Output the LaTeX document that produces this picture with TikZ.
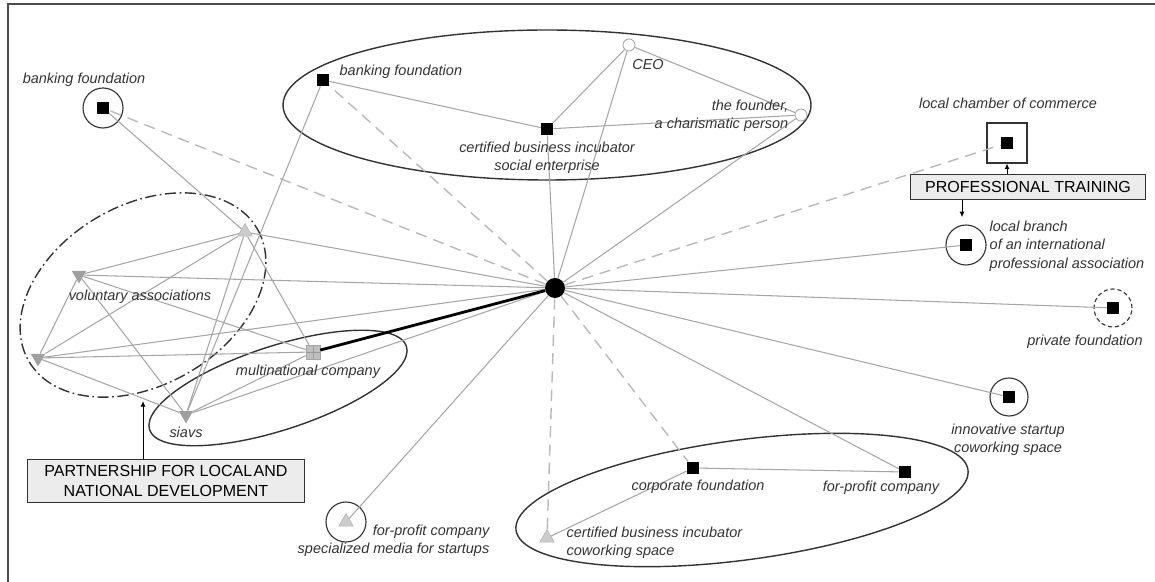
\documentclass[tikz,border=0pt]{standalone}
\usepackage{fontspec}
\setmainfont{Liberation Sans}
\usetikzlibrary{shapes.geometric,arrows.meta}

\tikzset{
    actor/.style={rectangle,fill=black,inner sep=0pt,minimum size=0.3cm},
    hubnode/.style={circle,fill=black,inner sep=0pt,minimum size=0.5cm},
    ring/.style={circle,draw=black!80,line width=0.8pt,inner sep=0pt,minimum size=1cm},
    person/.style={circle,draw=gray!70,fill=white,line width=0.6pt,inner sep=0pt,minimum size=0.3cm},
    uptri/.style={regular polygon,regular polygon sides=3,fill=gray!40,draw=gray!60,inner sep=0pt,minimum size=0.42cm},
    downtri/.style={regular polygon,regular polygon sides=3,shape border rotate=180,fill=gray!75,inner sep=0pt,minimum size=0.42cm},
    lbl/.style={font=\fontsize{10.3}{13}\selectfont\itshape,text=black!80,inner sep=1pt},
    tie/.style={draw=gray!70,line width=0.75pt},
    weak/.style={draw=gray!55,line width=1pt,dash pattern=on 8pt off 5pt},
    strong/.style={draw=black,line width=2pt},
    group/.style={draw=black!80,line width=1pt},
    theme/.style={draw=black!80,fill=gray!15,line width=0.8pt,font=\fontsize{11.4}{14}\selectfont,align=center,inner sep=0pt},
    pointer/.style={draw=black,line width=0.6pt,-{Latex[length=4pt,width=3.5pt]}}
}

\begin{document}
\begin{tikzpicture}[x=0.025cm,y=-0.025cm]
        \useasboundingbox (0,0) rectangle (1155,582);
        \draw[black!70,line width=1pt] (8,582) -- (8,4) -- (1155,4);

        \draw[group] (547,105) ellipse [x radius=264, y radius=75];
        \draw[group,rotate around={7.6:(742,500)}] (742,500) ellipse [x radius=228, y radius=60];
        \draw[group,rotate around={18:(278,388)}] (278,388) ellipse [x radius=135, y radius=42];
        \draw[group,dash pattern=on 8pt off 2.5pt on 1.2pt off 2.5pt,rotate around={30:(143,295)}] (143,295) ellipse [x radius=132, y radius=90];

        \node[hubnode] (hub) at (555,288) {};

        \node[actor] (bfL) at (103,108) {};
        \node[ring] (bfLring) at (bfL) {};
        \node[actor] (bfT) at (323,80) {};
        \node[actor] (cbiS) at (547,129) {};
        \node[person] (ceo) at (629,45) {};
        \node[person] (fndr) at (801,115) {};
        \node[actor] (lcc) at (1007,143) {};
        \node[draw=black!80,line width=0.8pt,minimum size=1cm] (lccbox) at (lcc) {};
        \node[actor] (lba) at (966,245) {};
        \node[ring] (lbaring) at (lba) {};
        \node[actor] (pf) at (1113,308) {};
        \node[ring,minimum size=0.95cm,dash pattern=on 3pt off 2pt] (pfring) at (pf) {};
        \node[actor] (isc) at (1009,397) {};
        \node[ring,minimum size=0.95cm] (iscring) at (isc) {};
        \node[actor] (fpc) at (905,472) {};
        \node[actor] (cf) at (693,468) {};
        \node[uptri] (cbiC) at (547,538) {};
        \node[uptri] (media) at (346,522) {};
        \node[ring] (mediaring) at (media) {};
        \node[rectangle,fill=gray!50,draw=gray!70,inner sep=0pt,minimum size=0.35cm,
              path picture={\draw[gray!80] (path picture bounding box.north) -- (path picture bounding box.south)
                                            (path picture bounding box.west) -- (path picture bounding box.east);}] (mnc) at (313,352) {};
        \node[downtri] (siavs) at (186,415) {};
        \node[downtri] (vaA) at (79,275) {};
        \node[downtri] (vaB) at (38,358) {};
        \node[uptri] (vaT) at (245,232) {};

        \foreach \a in {bfL,bfT,lcc,cbiC,cf}
            \draw[weak] (hub) -- (\a);
        \foreach \a in {cbiS,ceo,fndr,lba,pf,isc,fpc,media,vaT,vaA,vaB,siavs}
            \draw[tie] (hub) -- (\a);
        \foreach \a/\b in {bfL/vaT,bfT/cbiS,bfT/siavs,cbiS/ceo,cbiS/fndr,ceo/fndr,cf/fpc,cf/cbiC,
                           vaA/vaT,vaA/vaB,vaA/mnc,vaA/siavs,vaB/vaT,vaB/mnc,vaB/siavs,vaT/mnc,vaT/siavs,siavs/mnc}
            \draw[tie] (\a) -- (\b);
        \draw[strong] (hub) -- (mnc);

        \node[lbl] (bfLlbl) at (84,80) {banking foundation};
        \node[lbl,anchor=west] (bfTlbl) at (338,72) {banking foundation};
        \node[lbl,align=center] (cbiSlbl) at (547,158) {certified business incubator\\social enterprise};
        \node[lbl] (ceolbl) at (648,65) {CEO};
        \node[lbl,align=right,anchor=east] (fndrlbl) at (790,116) {the founder,\\a charismatic person};
        \node[lbl] (lcclbl) at (1008,103) {local chamber of commerce};
        \node[lbl,align=left,anchor=west] (lbalbl) at (988,246) {local branch\\of an international\\professional association};
        \node[lbl] (pflbl) at (1085,342) {private foundation};
        \node[lbl,align=center] (isclbl) at (1008,440) {innovative startup\\coworking space};
        \node[lbl] (fpclbl) at (881,488) {for-profit company};
        \node[lbl] (cflbl) at (698,487) {corporate foundation};
        \node[lbl,align=left,anchor=west] (cbiClbl) at (565,543) {certified business incubator\\coworking space};
        \node[lbl,align=right,anchor=east] (medialbl) at (491,541) {for-profit company\\specialized media for startups};
        \node[lbl] (mnclbl) at (308,372) {multinational company};
        \node[lbl] (siavslbl) at (186,432) {siavs};
        \node[lbl] (valbl) at (140,297) {voluntary associations};

        \node[theme,minimum width=5.875cm,minimum height=0.625cm] (training) at (1028,187) {PROFESSIONAL TRAINING};
        \node[theme,minimum width=6.925cm,minimum height=1.075cm] (partner) at (166,481) {PARTNERSHIP FOR LOCAL\hspace{1pt}AND\\NATIONAL DEVELOPMENT};
        \coordinate (vabottom) at (143,401);

        \draw[pointer] (training.north -| lccbox) -- (lccbox.south);
        \draw[pointer,shorten >=0.18cm] (training.south -| 962,0) -- (lbaring.north -| 962,0);
        \draw[pointer] (partner.north -| vabottom) -- (vabottom);

    \end{tikzpicture}
\end{document}
